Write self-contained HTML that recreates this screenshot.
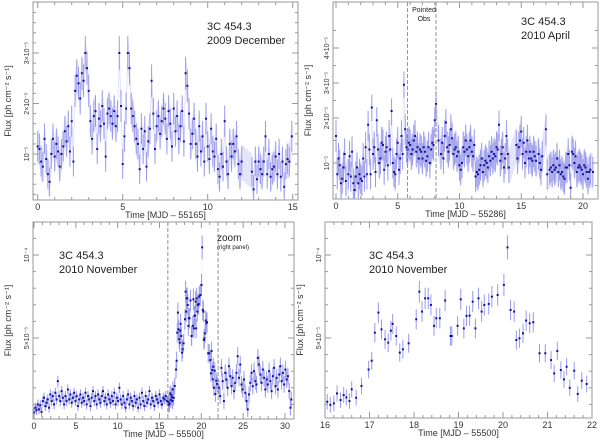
<!DOCTYPE html>
<html><head><meta charset="utf-8"><style>
html,body{margin:0;padding:0;background:#fff;}
svg{display:block;font-family:"Liberation Sans",sans-serif;}
</style></head><body>
<svg id="chart" width="600" height="441" viewBox="0 0 600 441" xmlns="http://www.w3.org/2000/svg"></svg>
<script>
// ---- Panel 1: 2009 December (flux in 1e-5) ----
const t1=[0,0.1,0.2,0.3,0.4,0.5,0.6,0.7,0.8,0.9,1.0,1.1,1.2,1.3,1.4,1.5,1.6,1.7,1.8,1.9,2.0,2.1,2.2,2.3,2.4,2.5,2.6,2.7,2.8,2.9,3.0,3.1,3.2,3.3,3.4,3.5,3.6,3.7,3.8,3.9,4.0,4.1,4.2,4.3,4.4,4.5,4.6,4.7,4.8,4.9,5.0,5.1,5.2,5.3,5.4,5.5,5.6,5.7,5.8,5.9,6.0,6.1,6.2,6.3,6.4,6.5,6.6,6.7,6.8,6.9,7.0,7.1,7.2,7.3,7.4,7.5,7.6,7.7,7.8,7.9,8.0,8.1,8.2,8.3,8.4,8.5,8.6,8.7,8.8,8.9,9.0,9.1,9.2,9.3,9.4,9.5,9.6,9.7,9.8,9.9,10.0,10.1,10.2,10.3,10.4,10.5,10.6,10.7,10.8,10.9,11.0,11.1,11.2,11.3,11.4,11.5,11.6,11.7,11.8,11.9,12.0,12.6,12.7,12.8,12.9,13.0,13.1,13.2,13.3,13.4,13.5,13.6,13.7,13.8,13.9,14.0,14.1,14.2,14.3,14.4,14.5,14.6,14.7,14.8,14.95];
const f1=[1.15,1.1,0.85,0.75,1.3,0.9,0.6,0.45,1.0,1.3,0.95,1.2,1.05,0.75,1.0,1.15,1.45,1.25,1.55,1.05,1.65,0.85,2.25,2.55,2.4,2.1,2.6,2.45,3.0,2.7,2.25,1.65,1.3,1.75,1.85,1.1,1.7,1.55,1.95,1.6,0.95,1.8,1.9,1.75,1.6,1.85,1.55,1.75,3.0,1.95,0.8,1.35,1.9,3.0,2.7,1.9,1.75,1.55,1.3,1.2,0.7,1.5,1.1,1.45,0.75,1.25,1.5,2.45,1.8,1.1,1.55,1.75,1.4,1.65,1.9,1.7,1.3,1.85,1.6,1.15,1.9,1.45,1.75,1.3,1.55,1.85,1.25,2.6,2.35,1.8,1.2,1.4,1.7,1.2,0.95,1.55,1.05,1.35,0.85,1.7,1.15,0.9,1.5,1.05,0.95,1.3,0.7,0.55,1.0,0.75,1.65,0.85,0.6,1.2,0.95,1.2,1.05,1.35,0.8,0.6,0.85,0.65,0.3,0.85,0.5,0.85,0.7,0.6,0.85,1.35,0.6,1.0,0.55,0.7,0.75,0.95,0.6,1.0,0.55,0.85,0.35,0.8,0.9,0.85,1.35];
const e1=[0.35];
// ---- Panel 2: 2010 April ----
const t2=[0,0.1,0.2,0.3,0.4,0.5,0.6,0.7,0.8,1.0,1.1,1.2,1.3,1.4,1.5,1.6,1.7,1.8,1.9,2.0,2.1,2.2,2.3,2.4,2.5,2.6,2.7,2.8,2.9,3.0,3.1,3.2,3.3,3.4,3.5,3.6,3.7,3.8,3.9,4.0,4.1,4.2,4.3,4.4,4.5,4.6,4.7,4.8,4.9,5.0,5.1,5.2,5.3,5.4,5.5,5.6,5.7,5.8,5.9,6.0,6.1,6.2,6.3,6.4,6.5,6.6,6.7,6.8,6.9,7.0,7.1,7.2,7.3,7.4,7.5,7.6,7.7,7.8,7.9,8.0,8.1,8.3,8.5,8.6,8.7,8.8,8.9,9.0,9.1,9.2,9.3,9.4,9.5,9.6,9.7,9.8,9.9,10.0,10.1,10.2,10.3,10.4,10.5,10.6,10.7,10.8,10.9,11.0,11.1,11.2,11.3,11.4,11.5,11.6,11.7,11.8,11.9,12.0,12.1,12.2,12.3,12.4,12.5,12.6,12.7,12.8,12.9,13.0,13.1,13.2,13.3,13.4,13.5,13.6,13.7,13.8,13.9,14.0,14.6,14.7,14.8,14.9,15.0,15.1,15.2,15.3,15.4,15.5,15.6,15.7,15.8,15.9,16.0,16.1,16.2,16.4,16.5,16.6,16.7,17.0,17.1,17.3,17.4,17.5,17.6,17.7,17.8,17.9,18.0,18.1,18.2,18.3,18.4,18.5,18.6,18.7,18.8,18.9,19.0,19.1,19.2,19.3,19.4,19.5,19.6,19.7,19.8,19.9,20.0,20.1,20.2,20.3,20.4,20.5,20.6,20.8];
const f2=[1.6,0.75,1.1,0.95,0.55,0.65,0.9,1.2,0.6,0.75,1.15,0.7,1.25,0.55,0.4,0.7,0.9,0.55,0.75,0.65,0.6,1.1,0.7,1.35,0.75,1.85,1.3,0.75,2.3,1.2,1.35,0.8,1.95,1.3,1.0,1.1,1.45,1.4,0.85,1.25,1.35,0.95,1.6,1.3,2.2,1.0,0.8,0.75,1.2,1.45,0.85,1.1,1.6,1.2,2.95,1.75,1.35,1.3,1.45,1.4,1.2,1.3,1.5,1.6,1.25,1.35,1.1,1.3,1.25,1.1,1.35,1.25,1.05,1.15,1.35,1.0,1.3,1.45,1.4,1.95,2.4,1.5,1.2,1.45,1.1,1.6,1.9,1.35,1.25,1.4,1.75,1.55,1.2,1.3,1.35,1.15,1.25,0.95,0.85,1.0,1.35,1.25,1.5,1.3,1.15,1.35,1.5,1.25,1.15,1.4,0.7,0.8,0.75,0.85,0.95,1.1,0.8,0.95,1.05,1.0,0.9,1.15,1.05,1.25,1.1,1.2,1.15,1.35,1.3,1.85,1.05,1.2,1.35,0.9,1.1,1.6,1.2,0.9,1.4,1.1,1.35,1.5,1.7,1.2,1.45,1.0,1.25,1.5,1.1,1.25,1.1,1.05,1.25,1.15,1.05,1.2,1.0,0.85,1.15,1.75,0.75,0.85,0.9,0.8,0.95,0.85,0.9,1.1,0.8,0.95,0.75,0.8,0.7,0.65,0.9,0.9,1.2,0.95,0.45,1.25,1.2,1.0,1.15,0.8,0.9,0.95,0.9,0.85,0.75,0.95,0.9,0.8,0.65,0.8,0.85,0.8];
const e2=[0.4];
// ---- Panel 4: 2010 November zoom (flux in 1e-5) ----
const t4=[16.05,16.12,16.2,16.27,16.35,16.42,16.48,16.55,16.6,16.7,16.82,16.98,17.05,17.12,17.2,17.27,17.35,17.42,17.48,17.52,17.6,17.68,17.75,17.88,18.05,18.12,18.18,18.25,18.32,18.38,18.45,18.5,18.58,18.7,18.82,18.85,18.98,19.05,19.12,19.18,19.25,19.32,19.38,19.45,19.52,19.58,19.68,19.75,19.88,20.02,20.1,20.17,20.25,20.3,20.37,20.45,20.52,20.6,20.68,20.82,20.95,21.08,21.15,21.22,21.3,21.37,21.43,21.5,21.6,21.68,21.77,21.88];
const f4=[1.16,0.97,1.06,1.66,1.26,1.56,1.42,1.2,1.91,1.4,2.11,3.1,3.63,5.32,6.53,5.52,4.92,4.72,5.44,5.85,5.12,4.12,4.32,4.68,6.13,7.79,6.59,7.39,7.39,6.99,5.73,6.19,6.19,7.26,5.12,5.12,5.73,7.33,5.58,6.33,6.35,7.19,5.58,7.39,6.59,6.99,7.05,7.49,7.59,8.2,10.46,6.69,6.59,4.88,4.98,5.28,6.05,5.89,5.95,4.08,4.08,3.67,2.87,4.22,3.07,2.51,3.27,2.0,3.03,1.63,2.43,2.23];
const e4=[0.55];
// ---- Panel 3: 2010 November full ----
const t3a=[0,0.15,0.3,0.45,0.6,0.75,0.9,1.05,1.2,1.35,1.5,1.65,1.8,1.95,2.1,2.25,2.4,2.55,2.7,2.85,3.0,3.15,3.3,3.45,3.6,3.75,3.9,4.05,4.2,4.35,4.5,4.65,4.8,4.95,5.1,5.25,5.4,5.55,5.7,5.85,6.0,6.15,6.3,6.45,6.6,6.75,6.9,7.05,7.2,7.35,7.5,7.65,7.8,7.95,8.1,8.25,8.4,8.55,8.7,8.85,9.0,9.15,9.3,9.45,9.6,9.75,9.9,10.05,10.2,10.35,10.5,10.65,10.8,10.95,11.1,11.25,11.4,11.55,11.7,11.85,12.0,12.15,12.3,12.45,12.6,12.75,12.9,13.05,13.2,13.35,13.5,13.65,13.8,13.95,14.1,14.25,14.4,14.55,14.7,14.85,15.0,15.15,15.3,15.45,15.6,15.75,15.9];
const f3a=[0.5,0.8,0.65,1.0,0.7,0.95,0.55,1.2,1.4,0.9,1.1,1.3,0.8,1.6,1.2,1.5,1.0,1.7,1.3,2.4,1.5,1.2,1.8,1.4,1.0,1.5,1.2,1.9,1.3,1.6,1.1,1.4,1.7,1.2,1.5,0.9,1.3,1.6,1.1,1.4,1.2,1.7,1.0,1.5,1.3,0.9,1.4,1.8,1.2,1.5,1.0,1.6,1.3,1.1,1.5,1.8,1.2,1.4,1.0,1.6,1.3,1.1,1.5,1.2,1.7,1.0,1.4,1.2,2.0,1.3,1.0,1.5,1.1,0.8,1.3,1.6,1.0,1.4,1.2,0.9,1.5,1.1,1.3,0.8,1.4,1.0,1.7,1.2,0.9,1.5,1.1,1.3,1.8,1.0,1.4,1.2,0.9,1.5,1.3,1.1,1.6,1.2,1.0,1.4,1.3,1.5,1.2];
const t3b=[22.1,22.25,22.4,22.55,22.7,22.85,23.0,23.15,23.3,23.45,23.6,23.75,23.9,24.05,24.2,24.35,24.5,24.65,24.8,24.95,25.1,25.25,25.4,25.55,25.7,25.85,26.0,26.15,26.3,26.45,26.6,26.75,26.9,27.05,27.2,27.35,27.5,27.65,27.8,27.95,28.1,28.25,28.4,28.55,28.7,28.85,29.0,29.15,29.3,29.45,29.6,29.75,29.9,30.05,30.2,30.35,30.5,30.65,30.75];
const f3b=[2.0,1.5,3.2,2.4,1.2,2.9,2.5,2.0,3.3,2.7,2.1,2.6,1.8,2.3,2.9,3.9,2.6,3.4,2.2,1.9,2.5,1.7,1.2,0.7,1.6,2.3,2.9,2.1,3.0,2.4,2.2,3.8,3.4,2.8,2.3,3.1,2.6,1.9,2.5,2.2,3.0,2.4,1.8,2.7,3.2,2.1,2.6,1.9,2.8,3.3,2.4,2.9,2.2,3.1,2.5,2.7,1.8,0.8,1.3];
const e3=[0.35];

const xt1=[0,5,10,15], xt2=[0,5,10,15,20], xt3=[0,5,10,15,20,25,30], xt4=[16,17,18,19,20,21,22];
const yt1=[1,2,3], yt1lab=["10⁻⁵","2×10⁻⁵","3×10⁻⁵"];
const yt2=[1,2,3,4], yt2lab=["10⁻⁵","2×10⁻⁵","3×10⁻⁵","4×10⁻⁵"];
const yt3=[5,10], yt3lab=["5×10⁻⁵","10⁻⁴"];

const NS="http://www.w3.org/2000/svg";
const svg=document.getElementById('chart');
function el(tag,attrs,parent){const e=document.createElementNS(NS,tag);for(const k in attrs)e.setAttribute(k,attrs[k]);(parent||svg).appendChild(e);return e;}
function lin(d0,d1,r0,r1){return v=>r0+(v-d0)*(r1-r0)/(d1-d0);}
function pw(vals,pix){return v=>{if(v<=vals[0])return pix[0]+(v-vals[0])*(pix[1]-pix[0])/(vals[1]-vals[0]);for(let i=1;i<vals.length;i++){if(v<=vals[i])return pix[i-1]+(v-vals[i-1])*(pix[i]-pix[i-1])/(vals[i]-vals[i-1]);}const n=vals.length-1;return pix[n]+(v-vals[n])*(pix[n]-pix[n-1])/(vals[n]-vals[n-1]);};}

function panel(cfg){
  const g=el('g',{});
  
  
  const {x0,x1,y0,y1,sx,sy}=cfg;
  const clipId=cfg.name+'-clip';
  const cp=el('clipPath',{id:clipId},g);el('rect',{x:x0,y:y0,width:x1-x0,height:y1-y0},cp);
  const data=el('g',{'clip-path':'url(#'+clipId+')'},g);
  
  
  cfg.series.forEach(s=>{
    const err=s.e[0];
    if(cfg.band){
      let up='',dn='';
      s.t.forEach((t,i)=>{up+=(i?'L':'M')+sx(t).toFixed(1)+','+sy(s.f[i]+err).toFixed(1);});
      for(let i=s.t.length-1;i>=0;i--)dn+='L'+sx(s.t[i]).toFixed(1)+','+sy(s.f[i]-err).toFixed(1);
      const b=el('path',{d:up+dn+'Z',fill:'#c4c4f6','fill-opacity':'0.45',stroke:'none'},data);
      
      
    }
    s.t.forEach((t,i)=>{
      const x=sx(t),v=s.f[i];
      const e=err*(0.8+0.05*v);
      const l=el('line',{x1:x,x2:x,y1:sy(v-e),y2:sy(v+e),stroke:'#9a9aea','stroke-width':1},data);
      
      
    });
    s.t.forEach((t,i)=>{
      const p=el('rect',{x:sx(t)-1,y:sy(s.f[i])-1,width:2,height:2,fill:'#1010a0'},data);
      
      
    });
  });
  (cfg.vlines||[]).forEach(v=>{
    const l=el('line',{x1:sx(v),x2:sx(v),y1:y0,y2:y1,stroke:'#777','stroke-width':0.8,'stroke-dasharray':'4,2'},g);
    
    
  });
  const fr=el('rect',{x:x0,y:y0,width:x1-x0,height:y1-y0,fill:'none',stroke:'#999','stroke-width':1},g);
  
  
  cfg.xt.forEach((t,i)=>{
    const x=sx(t);
    el('line',{x1:x,x2:x,y1:y1,y2:y1-6,stroke:'#999'},g);
    el('line',{x1:x,x2:x,y1:y0,y2:y0+6,stroke:'#999'},g);
    const tx=el('text',{x:x,y:y1+10,'text-anchor':'middle','font-size':9,fill:'#333'},g);
    tx.textContent=t;
    
    
    if(i<cfg.xt.length-1){const st=(cfg.xt[i+1]-t)/cfg.xminor;for(let k=1;k<cfg.xminor;k++){const xm=sx(t+k*st);el('line',{x1:xm,x2:xm,y1:y1,y2:y1-3,stroke:'#999'},g);el('line',{x1:xm,x2:xm,y1:y0,y2:y0+3,stroke:'#999'},g);}}
  });
  cfg.yt.forEach((v,i)=>{
    const y=sy(v);
    el('line',{x1:x0,x2:x0+6,y1:y,y2:y,stroke:'#999'},g);
    el('line',{x1:x1,x2:x1-6,y1:y,y2:y,stroke:'#999'},g);
    const tx=el('text',{x:0,y:0,'text-anchor':'middle','font-size':7,fill:'#333',transform:'translate('+(x0-4)+','+y+') rotate(-90)'},g);
    tx.textContent=cfg.ylab[i];
    
    
  });
  (cfg.yminor||[]).forEach(v=>{const y=sy(v);if(y>y0&&y<y1){el('line',{x1:x0,x2:x0+3,y1:y,y2:y,stroke:'#999'},g);el('line',{x1:x1,x2:x1-3,y1:y,y2:y,stroke:'#999'},g);}});
  const xt=el('text',{x:(x0+x1)/2,y:y1+18,'text-anchor':'middle','font-size':9,fill:'#333'},g);
  xt.textContent=cfg.xtitle;
  
  
  const yt=el('text',{x:0,y:0,'text-anchor':'middle','font-size':9,fill:'#333',transform:'translate('+(x0-22)+','+((y0+y1)/2)+') rotate(-90)'},g);
  yt.textContent='Flux [ph cm⁻² s⁻¹]';
  
  
  cfg.title.forEach((s,i)=>{
    const tt=el('text',{x:cfg.tx,y:cfg.ty+i*14,'font-size':11,fill:'#222'},g);
    tt.textContent=s;
    
    
  });
  return g;
}

panel({name:'panel-2009-december',x0:33,x1:298,y0:2,y1:200,sx:lin(0,15,37.7,292.7),sy:lin(1,3,154,53),
  series:[{t:t1,f:f1,e:e1}],band:true,xt:xt1,xminor:5,yt:yt1,ylab:yt1lab,yminor:[0.2,0.4,0.6,0.8,1.2,1.4,1.6,1.8,2.2,2.4,2.6,2.8,3.2,3.4,3.6,3.8],
  xtitle:'Time [MJD – 55165]',title:['3C 454.3','2009 December'],tx:207,ty:30});
panel({name:'panel-2010-april',x0:333,x1:598,y0:2,y1:199,sx:lin(0,20,336,583),sy:pw([1,2,3,4],[163,118,83,48]),
  series:[{t:t2,f:f2,e:e2}],band:true,xt:xt2,xminor:5,yt:yt2,ylab:yt2lab,yminor:[0.5,1.5,2.5,3.5,4.5],vlines:[5.8,8.1],
  xtitle:'Time [MJD – 55286]',title:['3C 454.3','2010 April'],tx:521,ty:25});
panel({name:'panel-2010-november',x0:33,x1:294,y0:222,y1:419,sx:lin(0,30,34,285),sy:lin(5,10,338,255),
  series:[{t:t3a,f:f3a,e:e3},{t:t4,f:f4,e:e4},{t:t3b,f:f3b,e:[0.55]}],band:true,xt:xt3,xminor:5,yt:yt3,ylab:yt3lab,yminor:[1,2,3,4,6,7,8,9,11],vlines:[16,22],
  xtitle:'Time [MJD – 55500]',title:['3C 454.3','2010 November'],tx:59,ty:259});
panel({name:'panel-2010-november-zoom',x0:325,x1:592,y0:222,y1:418,sx:lin(16,22,325,592),sy:lin(5,10,338,255),
  series:[{t:t4,f:f4,e:e4}],band:false,xt:xt4,xminor:5,yt:yt3,ylab:yt3lab,yminor:[1,2,3,4,6,7,8,9,11],
  xtitle:'Time [MJD – 55500]',title:['3C 454.3','2010 November'],tx:369,ty:259});

function note(txt,x,y,size,name){const t=el('text',{x:x,y:y,'font-size':size,fill:'#222','text-anchor':'middle'});t.textContent=txt;}
note('Pointed',424,12,7,'pointed-obs-label');
note('Obs',424,21,7,'pointed-obs-label-2');
const z=el('text',{x:217,y:241,'font-size':10,fill:'#222'});z.textContent='zoom';


const z2=el('text',{x:217,y:249,'font-size':6,fill:'#222'});z2.textContent='(right panel)';


</script>
</body></html>
